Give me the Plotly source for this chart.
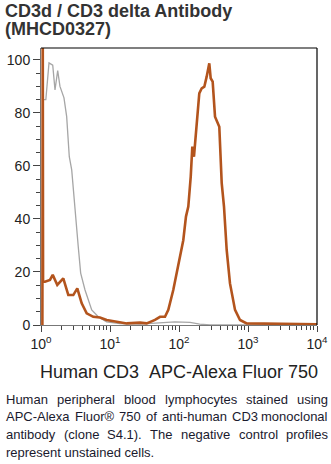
import numpy as np
import plotly.graph_objects as go

# ---- data (x stored as log10 fluorescence intensity, y as % of max) ----
ctrl_log = [0.04, 0.07, 0.116, 0.17, 0.203, 0.242, 0.275, 0.333, 0.372, 0.41, 0.445,
            0.493, 0.54, 0.575, 0.638, 0.735, 0.83, 0.95, 1.145, 1.43, 1.72, 1.94,
            2.16, 2.3, 2.45, 4.0]
ctrl_val = [85, 85, 98.9, 98, 88.7, 96, 90, 85.7, 78.6, 63.5, 58.5,
            42.3, 29.5, 19.6, 13.2, 5.7, 3.1, 1.2, 0.5, 0.3, 0.8, 1.2,
            1.0, 0.3, 0.0, 0.0]

stain_log = [0.02, 0.025, 0.03, 0.058, 0.13, 0.17, 0.236, 0.323, 0.396, 0.468, 0.526,
             0.59, 0.662, 0.758, 0.855, 0.952, 1.097, 1.242, 1.435, 1.532, 1.652,
             1.725, 1.797, 1.845, 1.917, 1.99, 2.062, 2.101, 2.135, 2.17, 2.193,
             2.217, 2.246, 2.294, 2.329, 2.367, 2.401, 2.439, 2.459, 2.488, 2.522,
             2.555, 2.584, 2.619, 2.652, 2.691, 2.739, 2.812, 2.884, 2.981, 4.0]
stain_val = [0, 120, 16.3, 16.3, 17, 18.9, 15.1, 17.6, 11.3, 11.3, 13.8,
             8.2, 4.4, 3.1, 2.8, 1.9, 1.2, 0.6, 0.9, 0.6, 1.9,
             3.1, 3.1, 5.7, 13.2, 23.3, 32, 40.9, 44.7, 56, 67.3,
             63.5, 72.3, 87.4, 89.3, 89.9, 93.7, 98.7, 93.1, 91.8, 78.6,
             76.7, 74.8, 53.5, 44.7, 28.3, 15.7, 5.7, 1.9, 0.6, 0.3]

x_tick_vals = [1, 10, 100, 1000, 10000]
x_tick_text = ["10<sup>0</sup>", "10<sup>1</sup>", "10<sup>2</sup>", "10<sup>3</sup>", "10<sup>4</sup>"]
y_tick_vals = [0, 20, 40, 60, 80, 100]

title_lines = ["CD3d / CD3 delta Antibody", "(MHCD0327)"]
x_title = "Human CD3 \u00a0APC-Alexa Fluor 750"
caption_lines = [
    ["Human", "peripheral", "blood", "lymphocytes", "stained", "using"],
    ["APC-Alexa", "Fluor®", "750", "of", "anti-human", "CD3", "monoclonal"],
    ["antibody", "(clone", "S4.1).", "The", "negative", "control", "profiles"],
    ["represent unstained cells."],
]

# ---- layout geometry (pixels) ----
W, H = 331, 464
L, R, T, B = 41, 14, 48, 139
PW, PH = W - L - R, H - T - B


def px(x):
    return (x - L) / PW


def py(y):
    return (H - B - y) / PH


# Arial / Liberation Sans advance widths (1/1000 em), used to justify caption lines
CHAR_W = {" ": 278, "(": 333, ")": 333, "-": 333, ".": 278, "A": 667, "C": 722,
          "F": 611, "H": 722, "P": 667, "S": 667, "T": 611, "a": 556, "b": 556,
          "c": 500, "d": 556, "e": 556, "f": 278, "g": 556, "h": 556, "i": 222,
          "l": 222, "m": 833, "n": 556, "o": 556, "p": 556, "r": 333, "s": 500,
          "t": 278, "u": 556, "v": 500, "y": 500, "x": 500, "®": 737}


def text_w(s, size):
    return sum(CHAR_W.get(c, 556) for c in s) * size / 1000.0


ORANGE = "#b3541d"
GRAY = "#a6a6a6"
FONT = "Liberation Sans, Arial, Helvetica, sans-serif"

fig = go.Figure()
fig.add_trace(go.Scatter(x=np.power(10.0, ctrl_log), y=ctrl_val, mode="lines",
                         line=dict(color=GRAY, width=1.3), hoverinfo="skip"))
fig.add_trace(go.Scatter(x=np.power(10.0, stain_log), y=stain_val, mode="lines",
                         line=dict(color=ORANGE, width=2.6), hoverinfo="skip"))

minor_x = [k * 10 ** d for d in range(4) for k in range(2, 10)]

fig.update_layout(
    width=W, height=H, margin=dict(l=L, r=R, t=T, b=B, pad=0, autoexpand=False),
    paper_bgcolor="white", plot_bgcolor="white", showlegend=False,
    font=dict(family=FONT, color="#222"),
    xaxis=dict(type="log", range=[0, 4], tickmode="array", tickvals=x_tick_vals,
               ticktext=x_tick_text, ticks="outside", ticklen=6, tickwidth=1,
               tickcolor="#444", showline=True, linecolor="#777", linewidth=1,
               showgrid=False, zeroline=False, automargin=False,
               tickfont=dict(size=14, color="#222"),
               minor=dict(tickmode="array", tickvals=minor_x, ticks="outside",
                          ticklen=4, tickcolor="#444", showgrid=False)),
    yaxis=dict(range=[0, 104.5], tickmode="array", tickvals=y_tick_vals,
               ticks="outside", ticklen=7, tickwidth=1, tickcolor="#444",
               showline=True, linecolor="#777", linewidth=1, showgrid=False,
               zeroline=False, automargin=False, tickfont=dict(size=14, color="#222"),
               minor=dict(dtick=5, ticks="outside", ticklen=4, tickcolor="#444",
                          showgrid=False)),
)

# top & right frame lines
fig.add_shape(type="line", xref="paper", yref="paper", x0=0, x1=1, y0=1, y1=1,
              line=dict(color="black", width=1.2))
fig.add_shape(type="line", xref="paper", yref="paper", x0=1, x1=1, y0=0, y1=1,
              line=dict(color="black", width=1.2))

# title
for text, yc in zip(title_lines, [11, 29.5]):
    fig.add_annotation(text=text, xref="paper", yref="paper", x=px(5), y=py(yc),
                       xanchor="left", yanchor="middle", showarrow=False,
                       borderpad=0, borderwidth=0,
                       font=dict(size=18, color="#333", family=FONT, weight="bold"))

# x-axis title
fig.add_annotation(text=x_title, xref="paper", yref="paper", x=px(178.5), y=py(372),
                   xanchor="center", yanchor="middle", showarrow=False, borderpad=0,
                   borderwidth=0, font=dict(size=18, color="#222", family=FONT))

# caption: justified lines (last line left aligned)
CAP_SIZE = 13
CAP_LEFT, CAP_RIGHT = 6, 328
line_y = [399, 416.5, 434.5, 452]
CAP_FONT = dict(size=CAP_SIZE, color="#1a1a2e", family=FONT)
for li, (words, yc) in enumerate(zip(caption_lines, line_y)):
    widths = [text_w(w, CAP_SIZE) for w in words]
    last = li == len(caption_lines) - 1
    gap = 0 if (last or len(words) < 2) else (CAP_RIGHT - CAP_LEFT - sum(widths)) / (len(words) - 1)
    xcur = CAP_LEFT
    for wi, (w, ww) in enumerate(zip(words, widths)):
        if not last and wi == len(words) - 1:
            fig.add_annotation(text=w, xref="paper", yref="paper", x=px(CAP_RIGHT), y=py(yc),
                               xanchor="right", yanchor="middle", showarrow=False,
                               borderpad=0, borderwidth=0, font=CAP_FONT)
        else:
            fig.add_annotation(text=w, xref="paper", yref="paper", x=px(xcur), y=py(yc),
                               xanchor="left", yanchor="middle", showarrow=False,
                               borderpad=0, borderwidth=0, font=CAP_FONT)
        xcur += ww + gap

fig.write_html("out.html")
